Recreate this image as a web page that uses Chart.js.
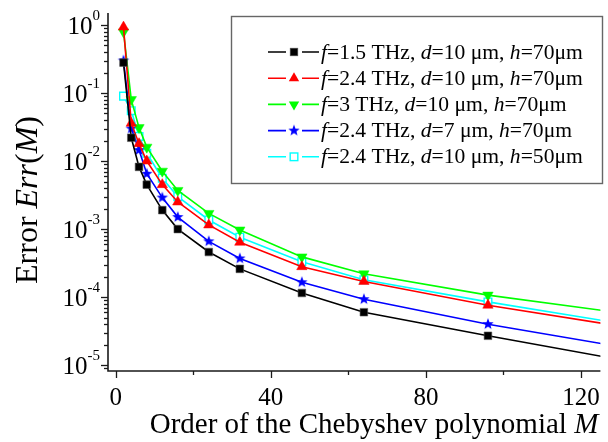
<!DOCTYPE html>
<html>
<head>
<meta charset="utf-8">
<script src="https://cdn.jsdelivr.net/npm/chart.js@4/dist/chart.umd.min.js"></script>
<style>
  html, body { margin: 0; padding: 0; background: #fff; }
  #plot { display: block; }
</style>
</head>
<body>
<canvas id="plot" width="608" height="442"></canvas>
<script>
// Order of the Chebyshev polynomial M
const orders = [2, 4, 6, 8, 12, 16, 24, 32, 48, 64, 96, 128];

// Error Err(M) for each configuration
const errF15d10h70 = [0.28, 0.022, 0.0082, 0.0045, 0.0019, 0.0010, 4.6e-4, 2.6e-4, 1.15e-4, 6.0e-5, 2.7e-5, 1.26e-5];
const errF24d10h70 = [0.93, 0.036, 0.018, 0.010, 0.0045, 0.0025, 1.15e-3, 6.4e-4, 2.8e-4, 1.7e-4, 7.6e-5, 3.9e-5];
const errF3d10h70  = [0.79, 0.080, 0.031, 0.016, 0.0071, 0.0037, 1.7e-3, 9.7e-4, 3.9e-4, 2.2e-4, 1.07e-4, 6.1e-5];
const errF24d7h70  = [0.30, 0.030, 0.0145, 0.0065, 0.0029, 0.0015, 6.6e-4, 3.7e-4, 1.65e-4, 9.3e-5, 4.0e-5, 1.95e-5];
const errF24d10h50 = [0.09, 0.055, 0.023, 0.013, 0.0056, 0.0030, 1.36e-3, 7.6e-4, 3.3e-4, 1.8e-4, 8.5e-5, 4.3e-5];

// Legend labels, as [text, italic] runs
const legendF15d10h70 = [['f', true], ['=1.5 THz, ', false], ['d', true], ['=10 \u03bcm, ', false], ['h', true], ['=70\u03bcm', false]];
const legendF24d10h70 = [['f', true], ['=2.4 THz, ', false], ['d', true], ['=10 \u03bcm, ', false], ['h', true], ['=70\u03bcm', false]];
const legendF3d10h70  = [['f', true], ['=3 THz, ', false], ['d', true], ['=10 \u03bcm, ', false], ['h', true], ['=70\u03bcm', false]];
const legendF24d7h70  = [['f', true], ['=2.4 THz, ', false], ['d', true], ['=7 \u03bcm, ', false], ['h', true], ['=70\u03bcm', false]];
const legendF24d10h50 = [['f', true], ['=2.4 THz, ', false], ['d', true], ['=10 \u03bcm, ', false], ['h', true], ['=50\u03bcm', false]];

// Axis ticks
const xMajorTicks = [0, 40, 80, 120];
const xMinorTicks = [20, 60, 100];
const yDecades = [0, -1, -2, -3, -4, -5];

const SERIF = '"Liberation Serif", "Times New Roman", serif';

// Filled five-point star used as a point marker
function makeStar(color, outer) {
  const size = Math.ceil(outer * 2 + 4);
  const c = document.createElement('canvas');
  c.width = size; c.height = size;
  const g = c.getContext('2d');
  const cx = size / 2, cy = size / 2, inner = outer * 0.42;
  g.beginPath();
  for (let i = 0; i < 10; i++) {
    const r = i % 2 === 0 ? outer : inner;
    const a = -Math.PI / 2 + i * Math.PI / 5;
    const px = cx + r * Math.cos(a), py = cy + r * Math.sin(a);
    if (i === 0) g.moveTo(px, py); else g.lineTo(px, py);
  }
  g.closePath();
  g.fillStyle = color;
  g.fill();
  return c;
}
const starMarker = makeStar('#0000ff', 6);

function series(values) {
  return orders.map((m, i) => ({ x: m, y: values[i] }));
}

const datasets = [
  { label: legendF15d10h70, data: series(errF15d10h70), borderColor: '#000000', backgroundColor: '#000000',
    pointStyle: 'rect', pointRadius: 5.4, pointBorderColor: '#555', pointBorderWidth: 0.6 },
  { label: legendF24d10h70, data: series(errF24d10h70), borderColor: '#ff0000', backgroundColor: '#ff0000',
    pointStyle: 'triangle', pointRadius: 6, pointBorderColor: '#ff0000', pointBorderWidth: 0.5 },
  { label: legendF3d10h70, data: series(errF3d10h70), borderColor: '#00ff00', backgroundColor: '#00ff00',
    pointStyle: 'triangle', pointRotation: 180, pointRadius: 6, pointBorderColor: '#00ff00', pointBorderWidth: 0.5 },
  { label: legendF24d7h70, data: series(errF24d7h70), borderColor: '#0000ff', backgroundColor: '#0000ff',
    pointStyle: starMarker, pointRadius: 6 },
  { label: legendF24d10h50, data: series(errF24d10h50), borderColor: '#00ffff', backgroundColor: '#ffffff',
    pointStyle: 'rect', pointRadius: 5.4, pointBorderColor: '#00ffff', pointBorderWidth: 1.4 }
].map(d => Object.assign({ borderWidth: 1.6, tension: 0, showLine: true, fill: false }, d));

function drawMarker(ctx, ds, x, y) {
  const style = ds.pointStyle;
  ctx.save();
  if (style instanceof HTMLCanvasElement) {
    ctx.drawImage(style, x - style.width / 2, y - style.height / 2);
  } else if (style === 'rect') {
    const s = Math.SQRT1_2 * ds.pointRadius;
    ctx.fillStyle = ds.backgroundColor;
    ctx.fillRect(x - s, y - s, 2 * s, 2 * s);
    ctx.lineWidth = ds.pointBorderWidth;
    ctx.strokeStyle = ds.pointBorderColor;
    ctx.strokeRect(x - s, y - s, 2 * s, 2 * s);
  } else if (style === 'triangle') {
    const r = ds.pointRadius;
    let a = (ds.pointRotation || 0) * Math.PI / 180;
    ctx.beginPath();
    for (let i = 0; i < 3; i++) {
      const px = x + Math.sin(a) * r, py = y - Math.cos(a) * r;
      if (i === 0) ctx.moveTo(px, py); else ctx.lineTo(px, py);
      a += 2 * Math.PI / 3;
    }
    ctx.closePath();
    ctx.fillStyle = ds.backgroundColor;
    ctx.fill();
  }
  ctx.restore();
}

function drawRuns(ctx, runs, x, y, size) {
  for (const [txt, it] of runs) {
    ctx.font = (it ? 'italic ' : '') + size + 'px ' + SERIF;
    ctx.fillText(txt, x, y);
    x += ctx.measureText(txt).width;
  }
  return x;
}

function runsWidth(ctx, runs, size) {
  let w = 0;
  for (const [txt, it] of runs) {
    ctx.font = (it ? 'italic ' : '') + size + 'px ' + SERIF;
    w += ctx.measureText(txt).width;
  }
  return w;
}

// Axes, tick marks, tick labels, titles and legend box
const framePlugin = {
  id: 'frame',
  afterDraw(chart) {
    const { ctx, chartArea: a, scales: { x, y } } = chart;
    ctx.save();
    ctx.strokeStyle = '#1a1a1a';
    ctx.fillStyle = '#000';
    ctx.lineWidth = 1.6;

    // axis lines
    ctx.beginPath();
    ctx.moveTo(a.left, a.top);
    ctx.lineTo(a.left, a.bottom);
    ctx.lineTo(a.right, a.bottom);
    ctx.stroke();

    // y ticks (major at decades, minor at 2..9)
    ctx.lineWidth = 1.3;
    for (let e = -6; e <= 1; e++) {
      for (let m = 1; m <= 9; m++) {
        const v = m * Math.pow(10, e);
        if (v < y.min || v > y.max) continue;
        const py = Math.round(y.getPixelForValue(v)) + 0.5;
        const len = m === 1 ? 7 : 4;
        ctx.beginPath();
        ctx.moveTo(a.left - len, py);
        ctx.lineTo(a.left, py);
        ctx.stroke();
      }
    }
    // y labels 10^n
    ctx.textBaseline = 'middle';
    for (const e of yDecades) {
      const py = y.getPixelForValue(Math.pow(10, e));
      const sup = e === 0 ? '0' : '-' + Math.abs(e);
      ctx.font = '15px ' + SERIF;
      const ws = ctx.measureText(sup).width;
      ctx.font = '25px ' + SERIF;
      const wb = ctx.measureText('10').width;
      const right = a.left - 8;
      ctx.textAlign = 'left';
      ctx.fillText('10', right - ws - wb, py + 2);
      ctx.font = '15px ' + SERIF;
      ctx.fillText(sup, right - ws, py - 9);
    }

    // x ticks
    ctx.lineWidth = 1.3;
    for (const v of xMajorTicks) {
      const px = Math.round(x.getPixelForValue(v)) + 0.5;
      ctx.beginPath(); ctx.moveTo(px, a.bottom); ctx.lineTo(px, a.bottom + 7); ctx.stroke();
    }
    for (const v of xMinorTicks) {
      const px = Math.round(x.getPixelForValue(v)) + 0.5;
      ctx.beginPath(); ctx.moveTo(px, a.bottom); ctx.lineTo(px, a.bottom + 4); ctx.stroke();
    }
    ctx.font = '25px ' + SERIF;
    ctx.textAlign = 'center';
    ctx.textBaseline = 'top';
    for (const v of xMajorTicks) {
      ctx.fillText(String(v), x.getPixelForValue(v), a.bottom + 15);
    }

    // x title
    const xTitle = [['Order of the Chebyshev polynomial ', false], ['M', true]];
    const wx = runsWidth(ctx, xTitle, 29);
    ctx.textAlign = 'left';
    ctx.textBaseline = 'alphabetic';
    drawRuns(ctx, xTitle, 374 - wx / 2, 433, 29);

    // y title (rotated)
    const yTitle = [['Error ', false], ['Err', true], ['(', false], ['M', true], [')', false]];
    const wy = runsWidth(ctx, yTitle, 32);
    ctx.save();
    ctx.translate(37, 200);
    ctx.rotate(-Math.PI / 2);
    drawRuns(ctx, yTitle, -wy / 2, 0, 32);
    ctx.restore();

    // legend box
    ctx.strokeStyle = '#666';
    ctx.lineWidth = 1.4;
    ctx.strokeRect(231.5, 16.5, 371, 167);
    const rowY0 = 52, rowStep = 26.2;
    chart.data.datasets.forEach((ds, i) => {
      const ry = rowY0 + i * rowStep;
      ctx.strokeStyle = ds.borderColor;
      ctx.lineWidth = 1.6;
      ctx.beginPath();
      ctx.moveTo(268, ry); ctx.lineTo(286, ry);
      ctx.moveTo(302, ry); ctx.lineTo(319, ry);
      ctx.stroke();
      drawMarker(ctx, ds, 294, ry);
      ctx.fillStyle = '#000';
      ctx.textBaseline = 'middle';
      ctx.textAlign = 'left';
      drawRuns(ctx, ds.label, 321, ry + 1, 21.6);
    });
    ctx.restore();
  }
};

new Chart(document.getElementById('plot'), {
  type: 'line',
  data: { datasets },
  options: {
    responsive: false,
    animation: false,
    devicePixelRatio: 1,
    layout: { padding: { left: 108, top: 13, right: 0, bottom: 71 } },
    plugins: { legend: { display: false }, tooltip: { enabled: false } },
    scales: {
      x: { type: 'linear', min: -2, max: 125, display: false },
      y: { type: 'logarithmic', min: 8.2e-6, max: 1.5, display: false }
    }
  },
  plugins: [framePlugin]
});
</script>
</body>
</html>
